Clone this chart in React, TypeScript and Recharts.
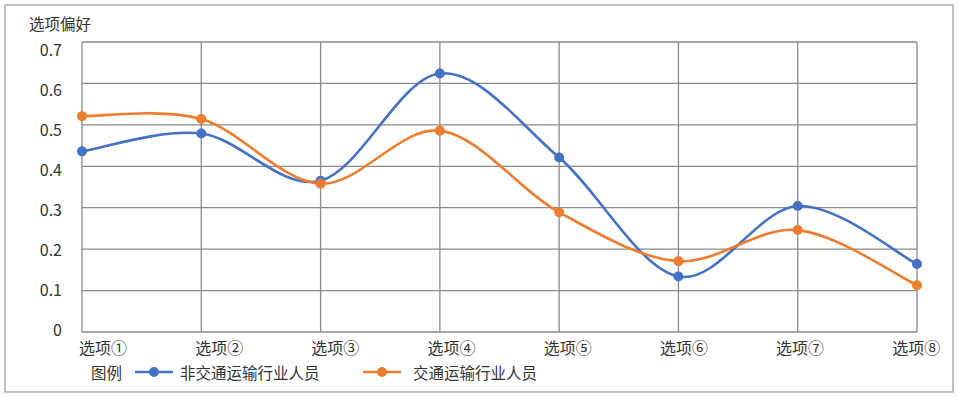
import React from 'react';
import { LineChart, Line, XAxis, YAxis, CartesianGrid } from 'recharts';

const categories = ['选项①', '选项②', '选项③', '选项④', '选项⑤', '选项⑥', '选项⑦', '选项⑧'];
const nonTransport = [0.436, 0.479, 0.365, 0.624, 0.421, 0.134, 0.304, 0.164];
const transport = [0.521, 0.514, 0.358, 0.486, 0.289, 0.171, 0.246, 0.113];
const yTicks = [0, 0.1, 0.2, 0.3, 0.4, 0.5, 0.6, 0.7];
const seriesNames = ['非交通运输行业人员', '交通运输行业人员'];
const yTitle = '选项偏好';
const legendTitle = '图例';

const BLUE = '#4472C4';
const ORANGE = '#ED7D31';
const TEXT = '#333333';
const FONT = '"Noto Sans CJK SC", "Noto Sans", sans-serif';

const data = categories.map((c, i) => ({ name: c, a: nonTransport[i], b: transport[i] }));

// Excel-like smoothed line (Catmull-Rom style bezier)
const excelSmooth: any = (context: any) => {
  let pts: number[][] = [];
  return {
    areaStart() {},
    areaEnd() {},
    lineStart() {
      pts = [];
    },
    lineEnd() {
      const n = pts.length;
      if (!n) return;
      context.moveTo(pts[0][0], pts[0][1]);
      for (let i = 0; i < n - 1; i++) {
        const p0 = pts[i - 1] || pts[i];
        const p1 = pts[i];
        const p2 = pts[i + 1];
        const p3 = pts[i + 2] || pts[i + 1];
        const c1x = p1[0] + (p2[0] - p0[0]) / 6;
        const c1y = p1[1] + (p2[1] - p0[1]) / 6;
        const c2x = p2[0] - (p3[0] - p1[0]) / 6;
        const c2y = p2[1] - (p3[1] - p1[1]) / 6;
        context.bezierCurveTo(c1x, c1y, c2x, c2y, p2[0], p2[1]);
      }
    },
    point(x: number, y: number) {
      pts.push([+x, +y]);
    },
  };
};

// Category labels in the reference sit slightly right of their grid lines,
// drifting left across the axis; Y labels sit slightly below their grid lines near the top.
const XTick = (props: any) => {
  const { x, y, payload, index } = props;
  const dx = 21 - 3.1 * index;
  return (
    <text x={x + dx} y={y} dy="0.71em" textAnchor="middle" fill={TEXT} fontSize={16} fontFamily={FONT}>
      {payload.value}
    </text>
  );
};

const YTick = (props: any) => {
  const { x, y, payload } = props;
  const v = Number(payload.value);
  const dy = -2 + 14.3 * v;
  return (
    <text x={x} y={y + dy} dy="0.355em" textAnchor="end" fill={TEXT} fontSize={16} fontFamily={FONT}>
      {v === 0 ? '0' : v.toFixed(1)}
    </text>
  );
};

const LegendMark = ({ color }: { color: string }) => (
  <svg width={40} height={12} style={{ display: 'block' }}>
    <line x1={1} y1={6} x2={39} y2={6} stroke={color} strokeWidth={2.6} />
    <circle cx={20} cy={6} r={5} fill={color} />
  </svg>
);

export default function App() {
  return (
    <div style={{ position: 'absolute', left: 0, top: 0, width: 958, height: 397, background: '#fff', fontFamily: FONT }}>
      <div style={{ position: 'absolute', left: 0, top: 0 }}>
        <LineChart width={958} height={397} data={data} margin={{ top: 42, right: 41, bottom: 35, left: 0 }}>
          <CartesianGrid stroke="#8a8a8a" strokeWidth={1.3} />
          <XAxis
            dataKey="name"
            height={30}
            axisLine={false}
            tickLine={false}
            tickSize={6}
            tickMargin={5}
            interval={0}
            tick={<XTick />}
          />
          <YAxis
            width={82}
            domain={[0, 0.7]}
            ticks={yTicks}
            axisLine={false}
            tickLine={false}
            tickSize={6}
            tickMargin={14}
            interval={0}
            tick={<YTick />}
          />
          <Line dataKey="a" name={seriesNames[0]} type={excelSmooth} stroke={BLUE} strokeWidth={2.6}
            dot={{ r: 5, fill: BLUE, stroke: BLUE, strokeWidth: 0 }} isAnimationActive={false} />
          <Line dataKey="b" name={seriesNames[1]} type={excelSmooth} stroke={ORANGE} strokeWidth={2.6}
            dot={{ r: 5, fill: ORANGE, stroke: ORANGE, strokeWidth: 0 }} isAnimationActive={false} />
        </LineChart>
      </div>
      <svg width={958} height={397} style={{ position: 'absolute', left: 0, top: 0, pointerEvents: 'none' }}>
        <rect x={5} y={5} width={948} height={387} fill="none" stroke="#a0a0a0" strokeWidth={1.3} />
      </svg>
      <div style={{ position: 'absolute', left: 29, top: 13, fontSize: 15.5, lineHeight: '20px', color: TEXT, whiteSpace: 'nowrap' }}>
        {yTitle}
      </div>
      <div style={{ position: 'absolute', left: 91, top: 362, height: 20, display: 'flex', alignItems: 'center', fontSize: 15.5, lineHeight: '20px', color: TEXT, whiteSpace: 'nowrap' }}>
        <span>{legendTitle}</span>
        <span style={{ marginLeft: 12 }}><LegendMark color={BLUE} /></span>
        <span style={{ marginLeft: 6 }}>{seriesNames[0]}</span>
        <span style={{ position: 'absolute', left: 271 }}><LegendMark color={ORANGE} /></span>
        <span style={{ position: 'absolute', left: 322 }}>{seriesNames[1]}</span>
      </div>
    </div>
  );
}
